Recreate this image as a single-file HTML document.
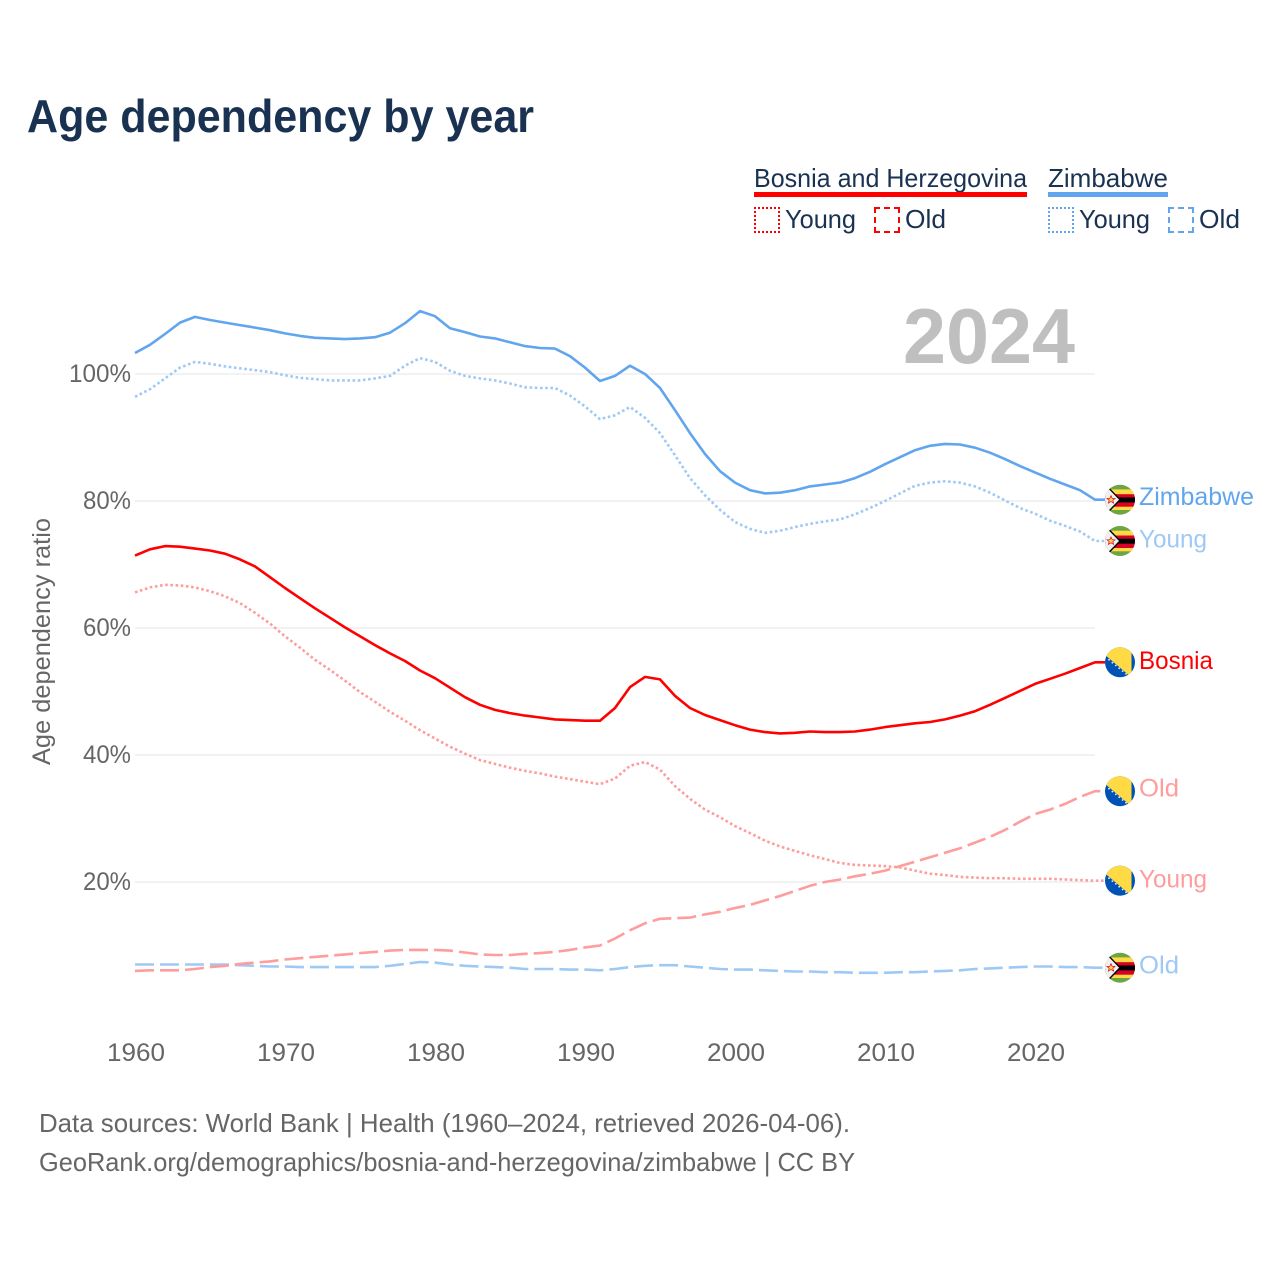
<!DOCTYPE html>
<html lang="en">
<head>
<meta charset="utf-8">
<title>Age dependency by year</title>
<style>
html,body{margin:0;padding:0;background:#fff;}
#stage{position:relative;width:1280px;height:1280px;overflow:hidden;background:#fff;}
svg{position:absolute;left:0;top:0;}
text{font-family:"Liberation Sans",sans-serif;}
.box{position:absolute;box-sizing:border-box;width:26px;height:26px;top:207px;border-width:2px;}
</style>
</head>
<body>
<div id="stage">
<svg id="chart" width="1280" height="1280" viewBox="0 0 1280 1280" xmlns="http://www.w3.org/2000/svg">
  <defs>
    <clipPath id="flag-clip"><circle cx="0" cy="0" r="15"/></clipPath>
    <g id="flag-zw" clip-path="url(#flag-clip)">
      <rect x="-16" y="-16" width="32" height="32" fill="#6da544"/>
      <rect x="-16" y="-10.3" width="32" height="20.6" fill="#ffda44"/>
      <rect x="-16" y="-5.5" width="32" height="12.5" fill="#d80027"/>
      <rect x="-16" y="-2.3" width="32" height="5" fill="#000"/>
      <polygon points="-16,-16 -10.6,-11 0,0 -10.6,11 -16,16" fill="#f0f0f0" stroke="#000" stroke-width="1.4"/>
      <polygon points="-9,-4 -7.8,-1.3 -5,-1.2 -7.2,0.6 -6.4,3.4 -9,1.8 -11.6,3.4 -10.8,0.6 -13,-1.2 -10.2,-1.3" fill="#ffda44" stroke="#d80027" stroke-width="0.7"/>
    </g>
    <g id="flag-ba" clip-path="url(#flag-clip)">
      <rect x="-16" y="-16" width="32" height="32" fill="#0052b4"/>
      <polygon points="-14,-6.5 -8,-16 11.5,-16 11.5,11 9.5,13.5" fill="#ffda44"/>
      <circle cx="-11" cy="-2.5" r="0.9" fill="#f0f0f0"/>
      <circle cx="-7.6" cy="0.4" r="0.9" fill="#f0f0f0"/>
      <circle cx="-4.2" cy="3.2" r="0.9" fill="#f0f0f0"/>
      <circle cx="-0.8" cy="6" r="0.9" fill="#f0f0f0"/>
      <circle cx="2.6" cy="8.8" r="0.9" fill="#f0f0f0"/>
      <circle cx="6" cy="11.6" r="0.9" fill="#f0f0f0"/>
    </g>
  </defs>

  <text x="27" y="132" font-size="46" font-weight="700" fill="#1a3252" textLength="507" lengthAdjust="spacingAndGlyphs">Age dependency by year</text>

  <text x="754" y="187" font-size="26" fill="#1a3252" textLength="273" lengthAdjust="spacingAndGlyphs">Bosnia and Herzegovina</text>
  <rect x="754" y="192" width="273" height="5" fill="#ff0000"/>
  <text x="1048" y="187" font-size="26" fill="#1a3252" textLength="120" lengthAdjust="spacingAndGlyphs">Zimbabwe</text>
  <rect x="1048" y="192" width="120" height="5" fill="#60a5ee"/>
  <text x="785" y="228" font-size="26" fill="#1a3252" textLength="71" lengthAdjust="spacingAndGlyphs">Young</text>
  <text x="905" y="228" font-size="26" fill="#1a3252" textLength="41" lengthAdjust="spacingAndGlyphs">Old</text>
  <text x="1079" y="228" font-size="26" fill="#1a3252" textLength="71" lengthAdjust="spacingAndGlyphs">Young</text>
  <text x="1199" y="228" font-size="26" fill="#1a3252" textLength="41" lengthAdjust="spacingAndGlyphs">Old</text>

  <g id="grid"></g>
  <g id="y-axis"></g>
  <g id="x-axis"></g>

  <text x="989" y="363" font-size="78" font-weight="700" fill="#bfbfbf" text-anchor="middle" textLength="172" lengthAdjust="spacingAndGlyphs">2024</text>

  <text transform="translate(50,765) rotate(-90)" font-size="25" fill="#666666" textLength="247" lengthAdjust="spacingAndGlyphs">Age dependency ratio</text>

  <g id="series"></g>
  <g id="end-labels"></g>

  <text x="39" y="1132" font-size="26" fill="#666666" textLength="811" lengthAdjust="spacingAndGlyphs">Data sources: World Bank | Health (1960–2024, retrieved 2026-04-06).</text>
  <text x="39" y="1171" font-size="26" fill="#666666" textLength="816" lengthAdjust="spacingAndGlyphs">GeoRank.org/demographics/bosnia-and-herzegovina/zimbabwe | CC BY</text>
</svg>

<div class="box" style="left:754px;border-style:dotted;border-color:#ff0000;"></div>
<div class="box" style="left:874px;border-style:dashed;border-color:#ff0000;"></div>
<div class="box" style="left:1048px;border-style:dotted;border-color:#60a5ee;"></div>
<div class="box" style="left:1168px;border-style:dashed;border-color:#60a5ee;"></div>
</div>

<script>
const years = [1960,1961,1962,1963,1964,1965,1966,1967,1968,1969,1970,1971,1972,1973,1974,1975,1976,1977,1978,1979,1980,1981,1982,1983,1984,1985,1986,1987,1988,1989,1990,1991,1992,1993,1994,1995,1996,1997,1998,1999,2000,2001,2002,2003,2004,2005,2006,2007,2008,2009,2010,2011,2012,2013,2014,2015,2016,2017,2018,2019,2020,2021,2022,2023,2024];
const xTicks = [1960,1970,1980,1990,2000,2010,2020];
const xTickLabels = ["1960","1970","1980","1990","2000","2010","2020"];
const yTicks = [20,40,60,80,100];
const yTickLabels = ["20%","40%","60%","80%","100%"];

const zimbabweTotal = [103.3,104.6,106.3,108.1,109.0,108.5,108.1,107.7,107.3,106.9,106.4,106.0,105.7,105.6,105.5,105.6,105.8,106.5,108.0,109.9,109.1,107.2,106.6,105.9,105.6,105.0,104.4,104.1,104.0,102.8,101.0,98.9,99.7,101.3,100.0,97.8,94.3,90.7,87.4,84.7,82.9,81.7,81.2,81.3,81.7,82.3,82.6,82.9,83.6,84.6,85.8,86.9,88.0,88.7,89.0,88.9,88.4,87.6,86.6,85.5,84.5,83.5,82.6,81.7,80.2];
const zimbabweYoung = [96.4,97.6,99.3,101.0,101.9,101.6,101.2,100.9,100.6,100.3,99.8,99.4,99.2,99.0,99.0,99.0,99.3,99.7,101.3,102.5,101.9,100.5,99.7,99.3,99.0,98.5,97.9,97.8,97.8,96.6,94.9,92.9,93.5,94.8,93.1,90.7,87.2,83.6,80.9,78.6,76.7,75.6,75.0,75.3,75.9,76.4,76.8,77.1,77.9,78.9,80.0,81.2,82.4,82.9,83.1,82.9,82.3,81.3,80.1,78.9,78.0,76.9,76.1,75.2,73.7];
const zimbabweOld = [7.0,7.0,7.0,7.0,7.0,7.0,7.0,6.9,6.8,6.7,6.7,6.6,6.6,6.6,6.6,6.6,6.6,6.8,7.1,7.4,7.3,7.0,6.8,6.7,6.6,6.5,6.3,6.3,6.3,6.2,6.2,6.1,6.3,6.6,6.8,6.9,6.9,6.7,6.5,6.3,6.2,6.2,6.1,6.0,5.9,5.9,5.8,5.8,5.7,5.7,5.7,5.8,5.8,5.9,6.0,6.1,6.3,6.4,6.5,6.6,6.7,6.7,6.6,6.6,6.5];
const bosniaTotal = [71.4,72.4,72.9,72.8,72.5,72.2,71.7,70.8,69.7,68.0,66.3,64.7,63.1,61.6,60.1,58.7,57.3,56.0,54.8,53.3,52.1,50.6,49.1,47.9,47.1,46.6,46.2,45.9,45.6,45.5,45.4,45.4,47.4,50.7,52.3,51.9,49.3,47.4,46.3,45.5,44.7,44.0,43.6,43.4,43.5,43.7,43.6,43.6,43.7,44.0,44.4,44.7,45.0,45.2,45.6,46.2,46.9,47.9,49.0,50.1,51.2,52.0,52.8,53.7,54.6];
const bosniaYoung = [65.6,66.4,66.8,66.7,66.4,65.8,65.0,63.9,62.4,60.7,58.7,56.9,55.0,53.4,51.7,49.9,48.4,46.8,45.4,43.9,42.6,41.3,40.2,39.2,38.6,38.0,37.5,37.1,36.6,36.2,35.8,35.4,36.3,38.3,38.9,37.7,35.1,33.1,31.4,30.2,28.8,27.7,26.5,25.6,24.9,24.2,23.6,23.0,22.7,22.6,22.5,22.3,21.8,21.3,21.1,20.8,20.7,20.6,20.6,20.5,20.5,20.5,20.4,20.3,20.2];
const bosniaOld = [6.0,6.1,6.1,6.1,6.3,6.6,6.8,7.1,7.3,7.5,7.8,8.0,8.2,8.4,8.6,8.8,9.0,9.2,9.3,9.3,9.3,9.2,8.9,8.6,8.5,8.5,8.7,8.8,9.0,9.3,9.7,10.0,11.1,12.4,13.5,14.2,14.3,14.4,14.9,15.3,15.9,16.4,17.1,17.8,18.6,19.4,20.0,20.4,20.9,21.3,21.8,22.5,23.2,23.9,24.6,25.3,26.2,27.1,28.2,29.5,30.7,31.4,32.3,33.4,34.3];

const SVG_NS = "http://www.w3.org/2000/svg";
function xScale(year){ return 135 + (year - 1960) * 15; }
function yScale(value){ return 882 - (value - 20) * 6.35; }
function make(tag, attrs, parent, text){
  const el = document.createElementNS(SVG_NS, tag);
  for (const k in attrs) el.setAttribute(k, attrs[k]);
  if (text !== undefined) el.textContent = text;
  parent.appendChild(el);
  return el;
}

const gridG = document.getElementById("grid");
const yG = document.getElementById("y-axis");
const xG = document.getElementById("x-axis");
const seriesG = document.getElementById("series");
const labelG = document.getElementById("end-labels");

yTicks.forEach(function(v, i){
  const line = make("line", {x1:135, x2:1095, y1:yScale(v), y2:yScale(v), stroke:"#e9e9e9", "stroke-width":1.3}, gridG);
  
  
  const label = yTickLabels[i];
  const t = make("text", {x:131, y:yScale(v)+8, "text-anchor":"end", "font-size":25, fill:"#666666", textLength:14*label.length+6, lengthAdjust:"spacingAndGlyphs"}, yG, label);
  
  
});

xTicks.forEach(function(year, i){
  const t = make("text", {x:xScale(year)+1, y:1061, "text-anchor":"middle", "font-size":25, fill:"#666666", textLength:58, lengthAdjust:"spacingAndGlyphs"}, xG, xTickLabels[i]);
  
  
});

function drawSeries(values, color, dash, seriesName){
  let d = "";
  values.forEach(function(v, i){
    d += (i ? "L" : "M") + xScale(years[i]).toFixed(1) + " " + yScale(v).toFixed(1);
  });
  d += "L" + (xScale(years[years.length-1]) + 10) + " " + yScale(values[values.length-1]).toFixed(1);
  const p = make("path", {d:d, fill:"none", stroke:color, "stroke-width":2.6, "stroke-linejoin":"round"}, seriesG);
  if (dash) p.setAttribute("stroke-dasharray", dash);
  
  
}

const BLUE = "#60a5ee", BLUE_LIGHT = "#9fc9f5", RED = "#ff0000", RED_LIGHT = "#ff9c9c";
const DOTTED = "2.6 2.6", DASHED = "19 6";
drawSeries(zimbabweOld, BLUE_LIGHT, DASHED, "line-zimbabwe-old");
drawSeries(bosniaOld, RED_LIGHT, DASHED, "line-bosnia-old");
drawSeries(zimbabweYoung, BLUE_LIGHT, DOTTED, "line-zimbabwe-young");
drawSeries(bosniaYoung, RED_LIGHT, DOTTED, "line-bosnia-young");
drawSeries(zimbabweTotal, BLUE, null, "line-zimbabwe-total");
drawSeries(bosniaTotal, RED, null, "line-bosnia-total");

function drawEnd(values, flagId, labelText, color, width, labelDy, flagName, labelName){
  const y = yScale(values[values.length-1]);
  const u = make("use", {href:"#"+flagId, transform:"translate(1120 "+y.toFixed(1)+")"}, labelG);
  
  
  const t = make("text", {x:1139, y:y+labelDy, "font-size":25, fill:color, textLength:width, lengthAdjust:"spacingAndGlyphs"}, labelG, labelText);
  
  
}
drawEnd(zimbabweTotal, "flag-zw", "Zimbabwe", BLUE, 115, 5.5, "flag-zimbabwe-total", "end-label-zimbabwe");
drawEnd(zimbabweYoung, "flag-zw", "Young", BLUE_LIGHT, 68, 6.5, "flag-zimbabwe-young", "end-label-zimbabwe-young");
drawEnd(bosniaTotal, "flag-ba", "Bosnia", RED, 74, 6.5, "flag-bosnia-total", "end-label-bosnia");
drawEnd(bosniaOld, "flag-ba", "Old", RED_LIGHT, 40, 5.5, "flag-bosnia-old", "end-label-bosnia-old");
drawEnd(bosniaYoung, "flag-ba", "Young", RED_LIGHT, 68, 7, "flag-bosnia-young", "end-label-bosnia-young");
drawEnd(zimbabweOld, "flag-zw", "Old", BLUE_LIGHT, 40, 6, "flag-zimbabwe-old", "end-label-zimbabwe-old");
</script>
</body>
</html>
